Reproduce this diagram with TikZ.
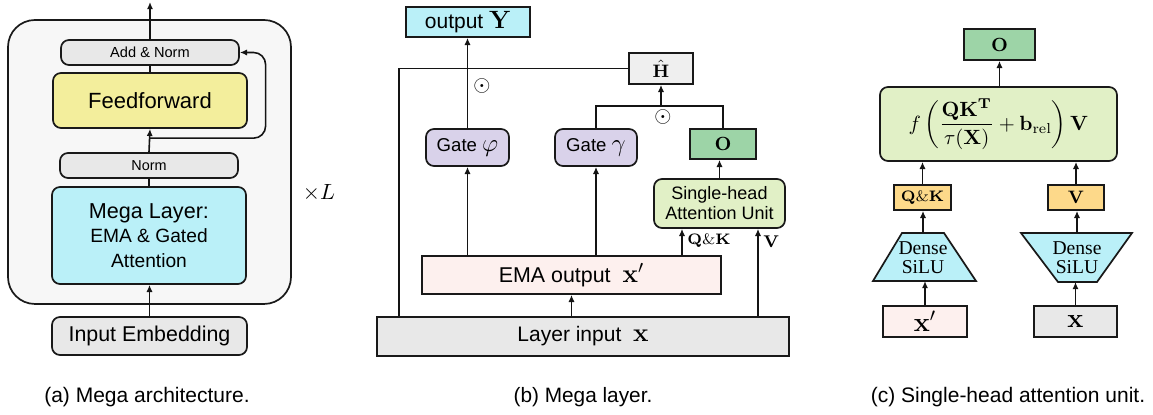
\RequirePackage{fix-cm}
\documentclass[tikz,border=0pt]{standalone}
\usepackage{amsmath}
\usepackage[no-math]{fontspec}
\setmainfont{Liberation Sans}
\newfontfamily\serifface{Liberation Serif}
\usetikzlibrary{arrows.meta,calc}

\definecolor{cbg}{HTML}{F7F7F7}
\definecolor{cgray}{HTML}{E8E8E8}
\definecolor{chat}{HTML}{EFEFEF}
\definecolor{cyellow}{HTML}{F3EE9C}
\definecolor{ccyan}{HTML}{BAF0F8}
\definecolor{clav}{HTML}{D9D2EA}
\definecolor{cgreen}{HTML}{9DD4A7}
\definecolor{clgreen}{HTML}{E1F0C6}
\definecolor{cpink}{HTML}{FDF0EE}
\definecolor{corange}{HTML}{FDD98A}

\newcommand\fsz[2]{\fontsize{#1}{#2}\selectfont}
\newcommand\mth[2]{{\fsz{#1}{#1}$#2$}}

\tikzset{
  conn/.style={line width=0.8pt, draw=black!92},
  arr/.style={conn, -{Latex[length=3.6pt,width=3.1pt]}},
  box/.style={draw=black!90, line width=0.85pt, inner sep=0pt, align=center},
  rbox/.style={box, rounded corners=4pt},
  sz/.style 2 args={minimum width=#1pt, minimum height=#2pt},
  outline/.style={draw=black!90, line width=0.85pt},
}

\begin{document}
\begin{tikzpicture}[x=0.5pt,y=-0.5pt]
\useasboundingbox (0,0) rectangle (1153,415);

% ---------------- (a) architecture ----------------
\node[box, rounded corners=13.5pt, fill=cbg, sz={141.5}{142}] (stack) at (149.5,162) {};
\node[rbox, fill=cgray, sz={89}{12.5}, font=\fsz{7.3}{9}] (addnorm) at (150,52.5) {Add \& Norm};
\node[rbox, fill=cyellow, sz={97}{27.5}, font=\fsz{11}{13}] (ff) at (150,100.5) {Feedforward};
\node[rbox, fill=cgray, sz={89}{12.5}, font=\fsz{7.2}{9}] (norm) at (149,165.5) {Norm};
\node[rbox, fill=ccyan, sz={97}{48.5}, font=\fsz{9.6}{12.2}] (mega) at (149,235.5)
  {{\fsz{10.8}{12.2}Mega Layer:}\\EMA \& Gated\\Attention};
\node[rbox, fill=cgray, sz={97.5}{19}, font=\fsz{10.7}{12}] (inemb) at (149.5,336) {Input Embedding};
\coordinate (atop) at (150,2);
\draw[arr] (addnorm.north) -- (addnorm.north |- atop);
\draw[conn] (ff.north) -- (addnorm.south);
\draw[arr] (norm.north) -- (ff.south);
\coordinate (res) at ($(norm.north)!0.6!(ff.south)$);
\draw[arr, rounded corners=6pt] (res) -- ++(116,0) |- (addnorm.east);
\draw[conn] (mega.north) -- (norm.south);
\draw[arr] (inemb.north) -- (inemb.north |- mega.south);
\node[font=\fsz{11}{12}] (times) at (319,193) {$\times L$};
\node[font=\fsz{10.5}{12}] (capa) at (147,397) {(a) Mega architecture.};

% ---------------- (b) Mega layer ----------------
\node[box, fill=ccyan, sz={62}{15}, font=\fsz{10.5}{12}] (outY) at (468,22) {output \mth{12.5}{\mathbf{Y}}};
\node[box, fill=chat, sz={32}{15.5}, font=\fsz{9}{10}] (hhat) at (661,68.5) {$\hat{\mathbf{H}}$};
\node[rbox, fill=clav, sz={41.5}{18.5}, font=\fsz{9.3}{11}] (gphi) at (467.5,147.5) {Gate \mth{12.5}{\varphi}};
\node[rbox, fill=clav, sz={41}{18.5}, font=\fsz{9.3}{11}] (ggam) at (596,147.5) {Gate \mth{12.5}{\gamma}};
\node[box, fill=cgreen, sz={33}{15}, font=\fsz{9.5}{11}] (ob) at (723,144) {$\mathbf{O}$};
\node[rbox, fill=clgreen, sz={65.5}{24.5}, font=\fsz{9}{10}] (sha) at (719.5,203.5) {Single-head\\Attention Unit};
\node[box, fill=cpink, sz={149.5}{19}, font=\fsz{10.7}{12}] (ema) at (571.5,275) {EMA output\ \ \mth{13}{\mathbf{x}'}};
\node[box, fill=cgray, sz={206}{19.5}, font=\fsz{10.5}{12}] (lin) at (583,336.5) {Layer input\ \ \mth{13}{\mathbf{x}}};

\draw[arr] (gphi.north) -- (gphi.north |- outY.south);
\node[font=\fsz{11}{12}] (dota) at (482,86) {$\odot$};
\coordinate (skipx) at (399,0);
\draw[conn] (hhat.west) -| (lin.north -| skipx);
\coordinate (br) at (661,106);
\draw[conn] (ggam.north) |- (br) -| (ob.north);
\draw[arr] (br) -- (hhat.south);
\node[font=\fsz{11}{12}] (dotb) at (663,117) {$\odot$};
\draw[arr] (sha.north) -- (sha.north |- ob.south);
\draw[arr] (ema.north -| gphi.south) -- (gphi.south);
\draw[arr] (ema.north -| ggam.south) -- (ggam.south);
\coordinate (qkx) at (682,0);
\draw[arr] (ema.north -| qkx) -- (sha.south -| qkx);
\node[anchor=west, font=\fsz{7.6}{9}, inner sep=0pt] (qklab) at (687,241) {$\mathbf{Q}\&\mathbf{K}$};
\coordinate (vx) at (758,0);
\draw[arr] (lin.north -| vx) -- (sha.south -| vx);
\node[anchor=west, font=\fsz{8.5}{10}, inner sep=0pt] (vlab) at (763,242) {$\mathbf{V}$};
\draw[arr] (lin.north -| ema.south) -- (ema.south);
\node[font=\fsz{10.4}{12}] (capb) at (583,397) {(b) Mega layer.};

% ---------------- (c) single-head attention unit ----------------
\node[box, fill=cgreen, sz={35.5}{15.5}, font=\fsz{9.5}{11}] (oc) at (999.5,44.5) {$\mathbf{O}$};
\node[rbox, fill=clgreen, sz={118.5}{37}, font=\fsz{10.3}{12}] (fbox) at (998.5,124)
  {$\displaystyle f\left(\frac{\mathbf{Q}\mathbf{K}^{\mathbf{T}}}{\tau(\mathbf{X})}+\mathbf{b}_{\mathrm{rel}}\right)\mathbf{V}$};
\node[box, fill=corange, sz={28.5}{12.5}, font=\fsz{7.6}{9}] (qkc) at (922.5,197.5) {$\mathbf{Q}\&\mathbf{K}$};
\node[box, fill=corange, sz={28}{12.5}, font=\fsz{9}{10}] (vc) at (1076,197.5) {$\mathbf{V}$};
% dense layers (trapezoids)
\draw[outline, fill=ccyan] (902,233) -- (944,233) -- (976,281) -- (873,281) -- cycle;
\node[font=\serifface\fsz{9.8}{9.5}, align=center, inner sep=0pt] (densea) at (923,258) {Dense\\SiLU};
\coordinate (dat) at (923,233);
\coordinate (dab) at (924,281);
\draw[outline, fill=ccyan] (1021,233) -- (1132,233) -- (1097,282) -- (1058,282) -- cycle;
\node[font=\serifface\fsz{9.8}{9.5}, align=center, inner sep=0pt] (denseb) at (1077,258) {Dense\\SiLU};
\coordinate (dbt) at (1077,233);
\coordinate (dbb) at (1077,282);
\node[box, fill=cpink, sz={42}{15.5}] (xpc) at (925,321.5) {\mth{13.5}{\mathbf{x}'}};
\node[box, fill=cgray, sz={41.5}{15.5}] (xc) at (1075.5,321.5) {\mth{13.5}{\mathbf{x}}};

\draw[arr] (oc.south |- fbox.north) -- (oc.south);
\draw[arr] (qkc.north) -- (qkc.north |- fbox.south);
\draw[arr] (vc.north) -- (vc.north |- fbox.south);
\draw[arr] (dat) -- (dat |- qkc.south);
\draw[arr] (dbt) -- (dbt |- vc.south);
\draw[arr] (xpc.north) -- (xpc.north |- dab);
\draw[arr] (xc.north) -- (xc.north |- dbb);
\node[font=\fsz{10.5}{12}] (capc) at (1008,397) {(c) Single-head attention unit.};
\end{tikzpicture}
\end{document}
